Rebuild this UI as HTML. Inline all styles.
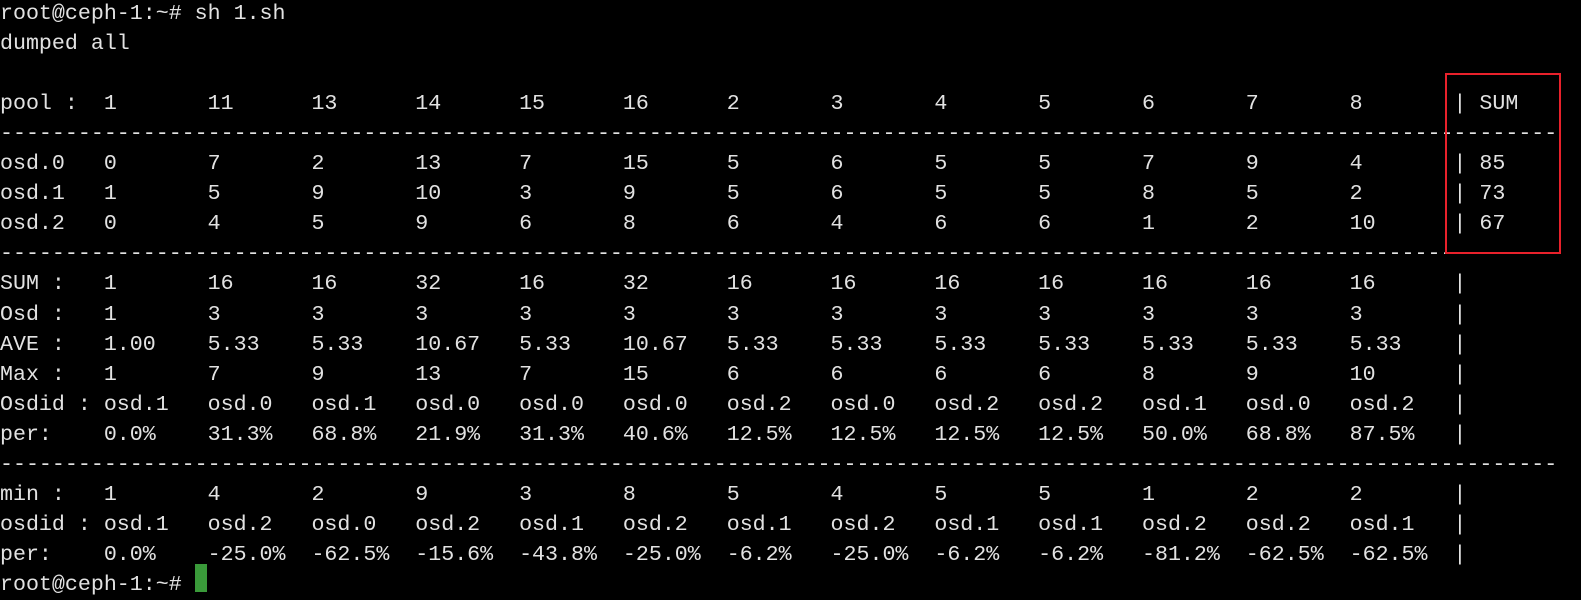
<!DOCTYPE html>
<html><head><meta charset="utf-8">
<style>
html,body{margin:0;padding:0;background:#000;width:1581px;height:598px;overflow:hidden}
#term{position:absolute;left:0;top:0;width:1581px;height:598px}
.ln{position:absolute;left:0;height:30px;line-height:30px;white-space:pre;font-family:"Liberation Mono",monospace;font-size:21.64px;color:#e2e2e2}
#box{position:absolute;left:1434px;top:73px;width:111px;height:177px;border:2px solid #e8212b}
#cursor{position:absolute;left:195px;top:564px;width:12px;height:28px;background:#3a9a3a}
</style></head>
<body>
<div id="term"></div>
<div id="box"></div>
<div id="cursor"></div>
<script>
const pools=["1","11","13","14","15","16","2","3","4","5","6","7","8"];
const osd0=["0","7","2","13","7","15","5","6","5","5","7","9","4"];
const osd1=["1","5","9","10","3","9","5","6","5","5","8","5","2"];
const osd2=["0","4","5","9","6","8","6","4","6","6","1","2","10"];
const osdSums=["85","73","67"];
const sums=["1","16","16","32","16","32","16","16","16","16","16","16","16"];
const osdCount=["1","3","3","3","3","3","3","3","3","3","3","3","3"];
const ave=["1.00","5.33","5.33","10.67","5.33","10.67","5.33","5.33","5.33","5.33","5.33","5.33","5.33"];
const maxv=["1","7","9","13","7","15","6","6","6","6","8","9","10"];
const maxId=["osd.1","osd.0","osd.1","osd.0","osd.0","osd.0","osd.2","osd.0","osd.2","osd.2","osd.1","osd.0","osd.2"];
const maxPer=["0.0%","31.3%","68.8%","21.9%","31.3%","40.6%","12.5%","12.5%","12.5%","12.5%","50.0%","68.8%","87.5%"];
const minv=["1","4","2","9","3","8","5","4","5","5","1","2","2"];
const minId=["osd.1","osd.2","osd.0","osd.2","osd.1","osd.2","osd.1","osd.2","osd.1","osd.1","osd.2","osd.2","osd.1"];
const minPer=["0.0%","-25.0%","-62.5%","-15.6%","-43.8%","-25.0%","-6.2%","-25.0%","-6.2%","-6.2%","-81.2%","-62.5%","-62.5%"];

function pad(s,n){while(s.length<n)s+=" ";return s;}
function row(label,vals,tail){let s=pad(label,8);vals.forEach(v=>s+=pad(v,8));s=pad(s,112)+"|";if(tail)s+=" "+tail;return s;}
const dash="-".repeat(120);
const lines=[
 ["prompt-command","root@ceph-1:~# sh 1.sh"],
 ["dump-message","dumped all"],
 ["blank-line",""],
 ["pool-header-row",row("pool :",pools,"SUM")],
 ["separator",dash],
 ["osd0-row",row("osd.0",osd0,osdSums[0])],
 ["osd1-row",row("osd.1",osd1,osdSums[1])],
 ["osd2-row",row("osd.2",osd2,osdSums[2])],
 ["separator",dash],
 ["sum-row",row("SUM :",sums)],
 ["osd-count-row",row("Osd :",osdCount)],
 ["average-row",row("AVE :",ave)],
 ["max-row",row("Max :",maxv)],
 ["max-osdid-row",row("Osdid :",maxId)],
 ["max-percent-row",row("per:",maxPer)],
 ["separator",dash],
 ["min-row",row("min :",minv)],
 ["min-osdid-row",row("osdid :",minId)],
 ["min-percent-row",row("per:",minPer)],
 ["prompt-line","root@ceph-1:~# "]
];
const term=document.getElementById('term');
lines.forEach((l,i)=>{
 const d=document.createElement('div');
 d.className='ln';
 
 
 d.style.top=(-1+i*30.05)+'px';
 d.textContent=l[1];
 term.appendChild(d);
});
document.getElementById('box').style.left='1445px';
document.getElementById('box').style.width='112px';
</script>
</body></html>
